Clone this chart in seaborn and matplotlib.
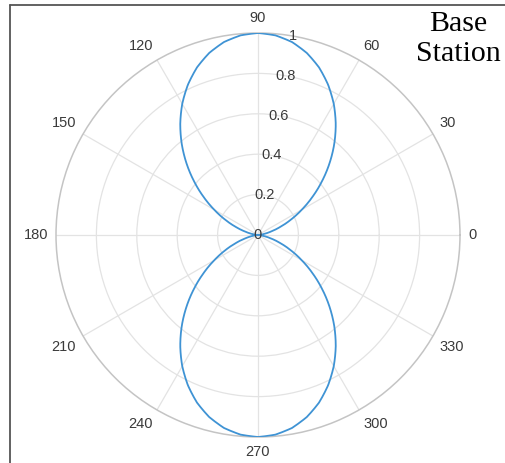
import numpy as np
import pandas as pd
import seaborn as sns
import matplotlib
matplotlib.use("Agg")
import matplotlib.pyplot as plt
from matplotlib.lines import Line2D

sns.set_theme(style="white")
plt.rcParams['font.family'] = ['Liberation Sans', 'DejaVu Sans']

# Pattern, every 5 degrees from 0 to 360
angle_deg = list(range(0, 365, 5))
radius = [0.000, 0.008, 0.030, 0.067, 0.117, 0.179, 0.250, 0.329, 0.413, 0.500,
          0.587, 0.671, 0.750, 0.821, 0.883, 0.933, 0.970, 0.992, 1.000, 0.992,
          0.970, 0.933, 0.883, 0.821, 0.750, 0.671, 0.587, 0.500, 0.413, 0.329,
          0.250, 0.179, 0.117, 0.067, 0.030, 0.008, 0.000, 0.008, 0.030, 0.067,
          0.117, 0.179, 0.250, 0.329, 0.413, 0.500, 0.587, 0.671, 0.750, 0.821,
          0.883, 0.933, 0.970, 0.992, 1.000, 0.992, 0.970, 0.933, 0.883, 0.821,
          0.750, 0.671, 0.587, 0.500, 0.413, 0.329, 0.250, 0.179, 0.117, 0.067,
          0.030, 0.008, 0.000]
theta_ticks = [0, 30, 60, 90, 120, 150, 180, 210, 240, 270, 300, 330]
r_ticks = [0, 0.2, 0.4, 0.6, 0.8, 1]
r_tick_labels = ["0", "0.2", "0.4", "0.6", "0.8", "1"]
title_text = "Base\nStation"

df = pd.DataFrame({"theta": np.deg2rad(angle_deg), "r": radius})

W, H = 506, 463
fig = plt.figure(figsize=(W / 100, H / 100), dpi=100)
cx, cy, R = 258, 235, 202
ax = fig.add_axes([(cx - R) / W, (H - cy - R) / H, 2 * R / W, 2 * R / H],
                  projection="polar")

sns.lineplot(data=df, x="theta", y="r", ax=ax, sort=False, estimator=None,
             color="#3f93d4", linewidth=1.3, zorder=5)
# draw segments as smooth arcs in polar space
for ln in ax.lines:
    ln.get_path()._interpolation_steps = 16

ax.set_ylim(0, 1)
ax.set_xlabel("")
ax.set_ylabel("")
ax.set_xticks(np.deg2rad(theta_ticks))
ax.set_xticklabels([])
ax.set_yticks(r_ticks[1:-1])
ax.set_yticklabels([])
ax.grid(True, color="#e3e3e3", linewidth=0.9)
ax.spines["polar"].set_color("#c4c4c4")
ax.spines["polar"].set_linewidth(1.1)
ax.set_facecolor("white")

# radial labels along 80 degrees
for r, lab in zip(r_ticks, r_tick_labels):
    ax.text(np.deg2rad(80), r, lab, ha="center", va="center",
            fontsize=10.5, color="#3a3a3a", zorder=6)

# angle labels just outside the circle
for t in theta_ticks:
    a = np.deg2rad(t)
    c, s = np.cos(a), np.sin(a)
    ha = "left" if c > 0.3 else ("right" if c < -0.3 else "center")
    va = "bottom" if s > 0.3 else ("top" if s < -0.3 else "center")
    ax.text(a, 1.04, str(t), ha=ha, va=va, fontsize=10.5,
            color="#3a3a3a", clip_on=False)

fig.text(458 / W, 1 - 11 / H, title_text, ha="center", va="top",
         fontsize=21.5, family="Liberation Serif", color="black",
         linespacing=1.2)

# partial frame (left and top edges)
fig.add_artist(Line2D([10 / W, 10 / W], [0, 1 - 5 / H], color="#555555",
                      linewidth=1.3, transform=fig.transFigure))
fig.add_artist(Line2D([10 / W, 1], [1 - 5 / H, 1 - 5 / H], color="#555555",
                      linewidth=1.3, transform=fig.transFigure))

fig.savefig("out.png", dpi=100)
